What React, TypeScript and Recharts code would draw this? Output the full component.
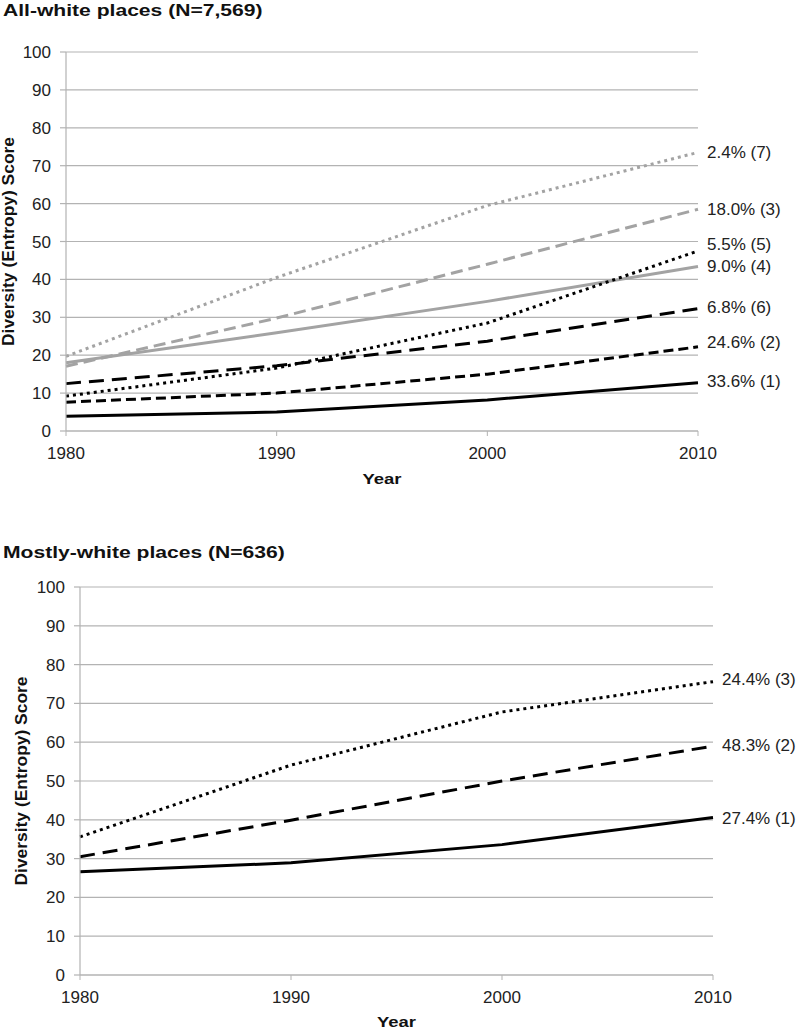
import React from 'react';
import { LineChart, Line, XAxis, YAxis, CartesianGrid } from 'recharts';

const years = [1980, 1990, 2000, 2010];
const yTicks = [0, 10, 20, 30, 40, 50, 60, 70, 80, 90, 100];

// All-white places, clusters (1)..(7)
const allWhite1 = [3.9, 5, 8.2, 12.7];
const allWhite2 = [7.6, 10, 15, 22.2];
const allWhite3 = [17.1, 29.8, 44, 58.5];
const allWhite4 = [18, 25.9, 34.2, 43.4];
const allWhite5 = [9.2, 16.6, 28.5, 47.5];
const allWhite6 = [12.5, 17.2, 23.7, 32.3];
const allWhite7 = [19.7, 40.5, 59.5, 73.5];
const allWhiteLabels = ['33.6% (1)', '24.6% (2)', '18.0% (3)', '9.0% (4)', '5.5% (5)', '6.8% (6)', '2.4% (7)'];

// Mostly-white places, clusters (1)..(3)
const mostlyWhite1 = [26.6, 28.9, 33.6, 40.6];
const mostlyWhite2 = [30.5, 39.9, 50, 59];
const mostlyWhite3 = [35.6, 54.1, 67.8, 75.6];
const mostlyWhiteLabels = ['27.4% (1)', '48.3% (2)', '24.4% (3)'];

const FONT = '"Liberation Sans", Arial, Helvetica, sans-serif';
const GRID = '#b3b3b3';
const BLACK = '#000000';
const GRAY = '#a3a3a3';

const allWhiteData = years.map((year, i) => ({
  year,
  s1: allWhite1[i],
  s2: allWhite2[i],
  s3: allWhite3[i],
  s4: allWhite4[i],
  s5: allWhite5[i],
  s6: allWhite6[i],
  s7: allWhite7[i],
}));

const mostlyWhiteData = years.map((year, i) => ({
  year,
  s1: mostlyWhite1[i],
  s2: mostlyWhite2[i],
  s3: mostlyWhite3[i],
}));

// line look per series, drawn in this order
const allWhiteSeries = [
  { key: 's7', label: allWhiteLabels[6], stroke: GRAY, dash: '3 4', dy: 0 },
  { key: 's3', label: allWhiteLabels[2], stroke: GRAY, dash: '12 6', dy: 0 },
  { key: 's4', label: allWhiteLabels[3], stroke: GRAY, dash: undefined, dy: 0 },
  { key: 's5', label: allWhiteLabels[4], stroke: BLACK, dash: '3 4', dy: -6 },
  { key: 's6', label: allWhiteLabels[5], stroke: BLACK, dash: '15 8', dy: -1 },
  { key: 's2', label: allWhiteLabels[1], stroke: BLACK, dash: '10 5', dy: -4 },
  { key: 's1', label: allWhiteLabels[0], stroke: BLACK, dash: undefined, dy: -1 },
];

const mostlyWhiteSeries = [
  { key: 's3', label: mostlyWhiteLabels[2], stroke: BLACK, dash: '3 4', dy: -2 },
  { key: 's2', label: mostlyWhiteLabels[1], stroke: BLACK, dash: '15 8', dy: -1 },
  { key: 's1', label: mostlyWhiteLabels[0], stroke: BLACK, dash: undefined, dy: 1 },
];

function endLabel(text: string, dy: number, last: number) {
  return (props: any) => {
    const { x, y, index } = props;
    if (index !== last) return null;
    return (
      <text
        x={x + 9}
        y={y + dy}
        dominantBaseline="central"
        fontSize={17}
        fontFamily={FONT}
        fill="#222"
      >
        {text}
      </text>
    );
  };
}

// the bold texts in the original are set a little wide, so stretch them
function YTitle(props: any) {
  const { viewBox, cx } = props;
  const cy = viewBox.y + viewBox.height / 2;
  return (
    <text
      x={cx}
      y={cy}
      transform={`rotate(-90, ${cx}, ${cy})`}
      textAnchor="middle"
      dominantBaseline="central"
      fontSize={16}
      fontWeight="bold"
      fontFamily={FONT}
      fill="#111"
      textLength={209}
      lengthAdjust="spacingAndGlyphs"
    >
      Diversity (Entropy) Score
    </text>
  );
}

function XTitle(props: any) {
  const { viewBox, top } = props;
  const cx = viewBox.x + viewBox.width / 2;
  return (
    <text
      x={cx}
      y={top}
      textAnchor="middle"
      dominantBaseline="central"
      fontSize={15}
      fontWeight="bold"
      fontFamily={FONT}
      fill="#111"
      textLength={39}
      lengthAdjust="spacingAndGlyphs"
    >
      Year
    </text>
  );
}

const tickStyle = { fill: '#222', fontSize: 17, fontFamily: FONT };

function Panel({
  data,
  series,
  width,
  height,
  margin,
  yTitleX,
  yearY,
}: {
  data: any[];
  series: { key: string; label: string; stroke: string; dash?: string; dy: number }[];
  width: number;
  height: number;
  margin: { top: number; right: number; bottom: number; left: number };
  yTitleX: number;
  yearY: number;
}) {
  return (
    <LineChart width={width} height={height} data={data} margin={margin} style={{ overflow: 'visible' }}>
      <CartesianGrid vertical={false} stroke={GRID} strokeWidth={1.2} />
      <XAxis
        dataKey="year"
        type="number"
        domain={[1980, 2010]}
        ticks={years}
        height={40}
        tick={tickStyle}
        tickSize={5}
        tickMargin={11}
        axisLine={{ stroke: GRID, strokeWidth: 1.2 }}
        tickLine={{ stroke: GRID }}
        label={<XTitle top={yearY} />}
      />
      <YAxis
        domain={[0, 100]}
        ticks={yTicks}
        width={50}
        interval={0}
        tick={tickStyle}
        tickSize={6}
        tickMargin={9}
        axisLine={{ stroke: GRID, strokeWidth: 1.2 }}
        tickLine={{ stroke: GRID, strokeWidth: 1.2 }}
        label={<YTitle cx={yTitleX} />}
      />
      {series.map((s) => (
        <Line
          key={s.key}
          dataKey={s.key}
          type="linear"
          stroke={s.stroke}
          strokeWidth={3}
          strokeDasharray={s.dash}
          dot={false}
          activeDot={false}
          isAnimationActive={false}
          label={endLabel(s.label, s.dy, data.length - 1)}
        />
      ))}
    </LineChart>
  );
}

const titleStyle: React.CSSProperties = {
  position: 'absolute',
  left: 3,
  fontFamily: FONT,
  fontWeight: 'bold',
  fontSize: 17,
  lineHeight: '20px',
  color: '#111',
  whiteSpace: 'nowrap',
  transform: 'scaleX(1.24)',
  transformOrigin: 'left center',
};

export default function App() {
  return (
    <div style={{ position: 'absolute', top: 0, left: 0, width: 800, height: 1028, background: '#fff' }}>
      <div style={{ ...titleStyle, top: 1 }}>All-white places (N=7,569)</div>
      <div style={{ position: 'absolute', top: 0, left: 0 }}>
        <Panel
          data={allWhiteData}
          series={allWhiteSeries}
          width={800}
          height={490}
          margin={{ top: 52, right: 102, bottom: 19, left: 16 }}
          yTitleX={8}
          yearY={478}
        />
      </div>
      <div style={{ ...titleStyle, top: 543 }}>Mostly-white places (N=636)</div>
      <div style={{ position: 'absolute', top: 500, left: 0 }}>
        <Panel
          data={mostlyWhiteData}
          series={mostlyWhiteSeries}
          width={800}
          height={528}
          margin={{ top: 87, right: 87, bottom: 13, left: 30 }}
          yTitleX={21}
          yearY={521}
        />
      </div>
    </div>
  );
}
